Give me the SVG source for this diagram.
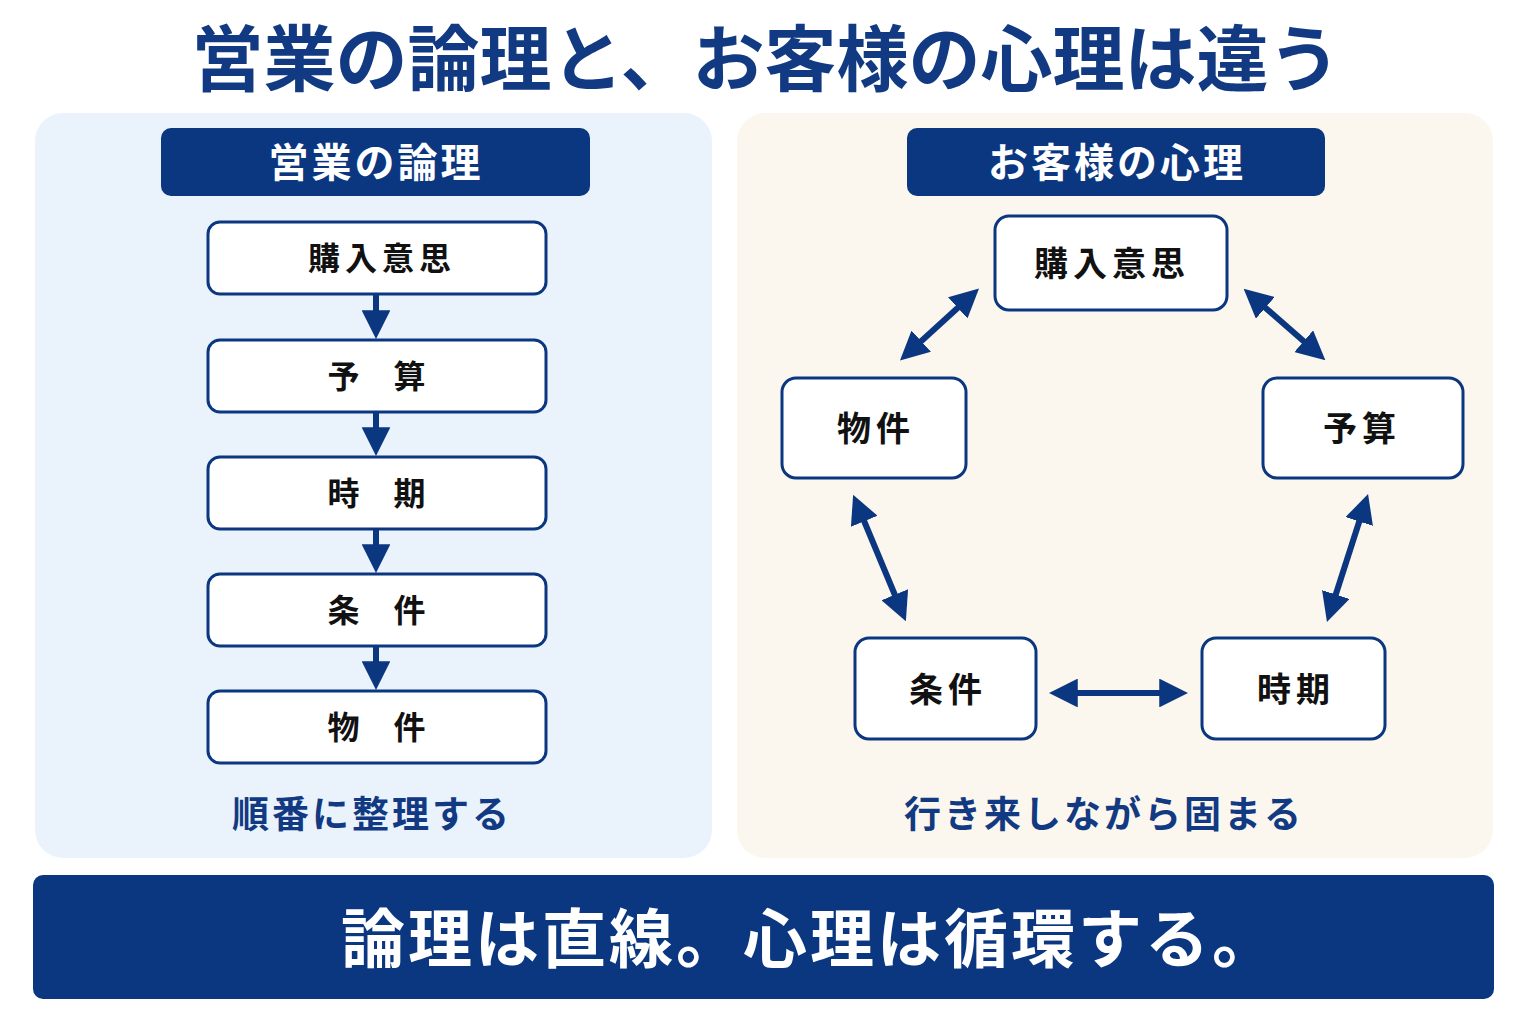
<svg xmlns="http://www.w3.org/2000/svg" width="1536" height="1024" viewBox="0 0 1536 1024">
<defs>
<style>
text{font-family:"Noto Sans CJK JP","Noto Sans",sans-serif;font-weight:700;text-anchor:middle}
.title{font-size:72px;fill:#123a83;letter-spacing:0px}
.hdr{fill:#0b3680}
.hdrt{font-size:40px;fill:#fff;letter-spacing:3px}
.box{fill:#fff;stroke:#0b3680;stroke-width:3}
.bt{font-size:32px;fill:#111;letter-spacing:5px}
.bt2{font-size:32px;fill:#111;letter-spacing:1px}
.cap{font-size:37px;fill:#123a83;letter-spacing:3px}
.con{stroke:#0b3680;stroke-width:6;fill:none}
.ban{font-size:64px;fill:#fff;letter-spacing:3px}
</style>
<marker id="ah" viewBox="0 0 10 10" refX="2" refY="5" markerWidth="4.8" markerHeight="4.8" orient="auto-start-reverse" markerUnits="strokeWidth">
<path d="M0,0 L10,5 L0,10 Z" fill="#0b3680"/>
</marker>
</defs>
<rect width="1536" height="1024" fill="#ffffff"/>
<text class="title" x="766" y="85">営業の論理と、お客様の心理は違う</text>

<rect x="35" y="113" width="677" height="745" rx="28" fill="#eaf3fc"/>
<rect x="737" y="113" width="756" height="745" rx="28" fill="#fbf7ee"/>

<g id="left-header"><rect class="hdr" x="161" y="128" width="429" height="68" rx="10"/><text class="hdrt" x="376" y="177">営業の論理</text></g>
<g id="l1"><rect class="box" x="208" y="222" width="338" height="72" rx="12"/><text class="bt" x="382" y="270">購入意思</text></g>
<g id="l2"><rect class="box" x="208" y="340" width="338" height="72" rx="12"/><text class="bt2" x="377" y="388">予　算</text></g>
<g id="l3"><rect class="box" x="208" y="457" width="338" height="72" rx="12"/><text class="bt2" x="377" y="505">時　期</text></g>
<g id="l4"><rect class="box" x="208" y="574" width="338" height="72" rx="12"/><text class="bt2" x="377" y="622">条　件</text></g>
<g id="l5"><rect class="box" x="208" y="691" width="338" height="72" rx="12"/><text class="bt2" x="377" y="739">物　件</text></g>
<text class="cap" x="372" y="828">順番に整理する</text>

<g id="right-header"><rect class="hdr" x="907" y="128" width="418" height="68" rx="10"/><text class="hdrt" x="1117" y="177">お客様の心理</text></g>
<g id="r1"><rect class="box" x="995" y="216" width="232" height="94" rx="14"/><text class="bt" x="1112" y="276" style="font-size:34px">購入意思</text></g>
<g id="r2"><rect class="box" x="782" y="378" width="184" height="100" rx="14"/><text class="bt" x="876" y="441" style="font-size:34px">物件</text></g>
<g id="r3"><rect class="box" x="1263" y="378" width="200" height="100" rx="14"/><text class="bt" x="1362" y="441" style="font-size:34px">予算</text></g>
<g id="r4"><rect class="box" x="855" y="638" width="181" height="101" rx="14"/><text class="bt" x="948" y="702" style="font-size:34px">条件</text></g>
<g id="r5"><rect class="box" x="1202" y="638" width="183" height="101" rx="14"/><text class="bt" x="1296" y="702" style="font-size:34px">時期</text></g>
<text class="cap" x="1104" y="828">行き来しながら固まる</text>

<g id="connectors">
<path class="con" d="M376,294 V316" marker-end="url(#ah)"/>
<path class="con" d="M376,412 V433" marker-end="url(#ah)"/>
<path class="con" d="M376,529 V550" marker-end="url(#ah)"/>
<path class="con" d="M376,646 V667" marker-end="url(#ah)"/>
<path class="con" d="M962,304 L917,345" marker-start="url(#ah)" marker-end="url(#ah)"/>
<path class="con" d="M1261,304 L1308,345" marker-start="url(#ah)" marker-end="url(#ah)"/>
<path class="con" d="M862,516 L897,600" marker-start="url(#ah)" marker-end="url(#ah)"/>
<path class="con" d="M1361,516 L1334,600" marker-start="url(#ah)" marker-end="url(#ah)"/>
<path class="con" d="M1072,693 L1165,693" marker-start="url(#ah)" marker-end="url(#ah)"/>
</g>

<g id="banner"><rect x="33" y="875" width="1461" height="124" rx="10" fill="#0b3680"/><text class="ban" x="810" y="962">論理は直線。心理は循環する。</text></g>
</svg>
